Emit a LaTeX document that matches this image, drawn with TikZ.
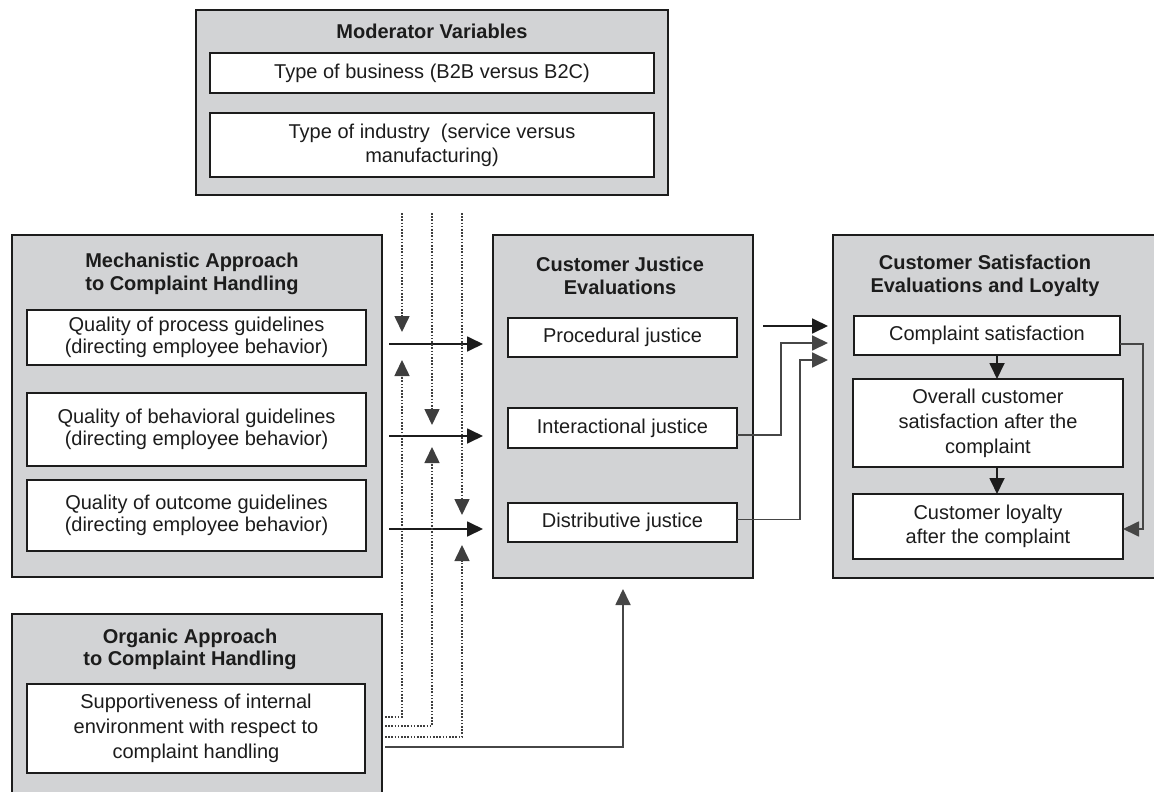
\documentclass[tikz,border=0pt]{standalone}
\usepackage{fontspec}
\setmainfont{Liberation Sans}
\usetikzlibrary{arrows.meta,calc}
\definecolor{panel}{RGB}{210,211,213}
\definecolor{ink}{RGB}{28,28,28}
\definecolor{wire}{RGB}{70,70,70}

\begin{document}
\begin{tikzpicture}[x=1pt,y=-1pt,
  panelbox/.style={draw=ink, line width=1.8pt, fill=panel, inner sep=0pt, outer sep=0pt},
  itembox/.style={draw=ink, line width=1.6pt, fill=white, inner sep=0pt, outer sep=0pt,
    align=center, text=ink, font=\fontsize{20}{22.5}\selectfont},
  heading/.style={font=\bfseries\fontsize{20}{22.5}\selectfont, align=center, text=ink, inner sep=0pt},
  tip/.style={-{Triangle[length=16pt,width=15pt]}},
  arr/.style={line width=1.8pt, draw=ink, tip},
  wirearr/.style={line width=1.8pt, draw=wire, tip},
  dots/.style={line width=1.6pt, draw=ink!85, dash pattern=on 1.6pt off 1.6pt},
  dotarr/.style={dots, tip}
]
\useasboundingbox (0,0) rectangle (1154,792);

% ---- Moderator variables ----
\node[panelbox, minimum width=472pt, minimum height=185pt] (mod) at (432,102.5) {};
\node[heading] (modT) at (432,31) {Moderator Variables};
\node[itembox, minimum width=444pt, minimum height=40pt] (mod1) at (432,73)
  {Type of business (B2B versus B2C)};
\node[itembox, minimum width=444pt, minimum height=64pt,
  font=\fontsize{20}{24}\selectfont] (mod2) at (432,145)
  {Type of industry\ \ (service versus\\manufacturing)};

% ---- Mechanistic approach ----
\node[panelbox, minimum width=370pt, minimum height=342pt] (mech) at (197,406) {};
\node[heading] (mechT) at (192,274) {Mechanistic Approach\\to Complaint Handling};
\node[itembox, minimum width=339pt, minimum height=55pt] (m1) at (196.5,337.5)
  {Quality of process guidelines\\(directing employee behavior)};
\node[itembox, minimum width=339pt, minimum height=73pt] (m2) at (196.5,429.5)
  {Quality of behavioral guidelines\\(directing employee behavior)};
\node[itembox, minimum width=339pt, minimum height=71pt] (m3) at (196.5,515.5)
  {Quality of outcome guidelines\\(directing employee behavior)};

% ---- Organic approach ----
\node[panelbox, minimum width=370pt, minimum height=200pt] (org) at (197,714) {};
\node[heading] (orgT) at (190,649.5) {Organic Approach\\to Complaint Handling};
\node[itembox, minimum width=338pt, minimum height=89pt,
  font=\fontsize{20}{25}\selectfont] (o1) at (196,728.5)
  {Supportiveness of internal\\environment with respect to\\complaint handling};

% ---- Customer justice evaluations ----
\node[panelbox, minimum width=260pt, minimum height=343pt] (cje) at (623,406.5) {};
\node[heading] (cjeT) at (620,276) {Customer Justice\\Evaluations};
\node[itembox, minimum width=229pt, minimum height=39pt] (pj) at (622.5,337.5) {Procedural justice};
\node[itembox, minimum width=229pt, minimum height=40pt] (ij) at (622.5,428) {Interactional justice};
\node[itembox, minimum width=229pt, minimum height=39pt] (dj) at (622.5,522.5) {Distributive justice};

% ---- Customer satisfaction evaluations and loyalty ----
\node[panelbox, minimum width=327pt, minimum height=343pt] (sat) at (996.5,406.5) {};
\node[heading] (satT) at (985,276) {Customer Satisfaction\\Evaluations and Loyalty};
\node[itembox, minimum width=266pt, minimum height=39pt] (cs) at (987,335.5) {Complaint satisfaction};
\node[itembox, minimum width=270pt, minimum height=88pt,
  font=\fontsize{20}{25}\selectfont] (oc) at (988,423)
  {Overall customer\\satisfaction after the\\complaint};
\node[itembox, minimum width=270pt, minimum height=65pt,
  font=\fontsize{20}{24}\selectfont] (cl) at (988,526.5)
  {Customer loyalty\\after the complaint};

% ---- free ends of the connectors ----
\coordinate (mA) at (389,344);  \coordinate (mAe) at (483,344);
\coordinate (mB) at (389,436);  \coordinate (mBe) at (483,436);
\coordinate (mC) at (389,529);  \coordinate (mCe) at (483,529);
\coordinate (d1) at (402,213);  \coordinate (d1e) at (402,332);
\coordinate (d2) at (432,213);  \coordinate (d2e) at (432,425);
\coordinate (d3) at (462,213);  \coordinate (d3e) at (462,515);
\coordinate (u1) at (385,717);  \coordinate (u1e) at (402,360);
\coordinate (u2) at (385,726);  \coordinate (u2e) at (432,447);
\coordinate (u3) at (385,737);  \coordinate (u3e) at (462,545);
\coordinate (os) at (385,747);  \coordinate (ose) at (623,589);
\coordinate (pA) at (763,326);  \coordinate (pAe) at (828,326);
\coordinate (iB) at (781,343);  \coordinate (iBe) at (828,343);
\coordinate (dC) at (800,360);  \coordinate (dCe) at (828,360);
\coordinate (fb) at (1143,344);

% mechanistic guidelines -> justice evaluations
\draw[arr] (mA) -- (mAe);
\draw[arr] (mB) -- (mBe);
\draw[arr] (mC) -- (mCe);

% moderator effects (dotted)
\draw[dotarr] (d1) -- (d1e);
\draw[dotarr] (d2) -- (d2e);
\draw[dotarr] (d3) -- (d3e);

% organic approach effects (dotted)
\draw[dotarr] (u1) -| (u1e);
\draw[dotarr] (u2) -| (u2e);
\draw[dotarr] (u3) -| (u3e);

% organic approach -> justice evaluations
\draw[wirearr] (os) -| (ose);

% justice evaluations -> satisfaction
\draw[arr] (pA) -- (pAe);
\draw[wirearr] ([yshift=-7pt]ij.east) -| (iB) -- (iBe);
\draw[wirearr] ([yshift=3pt]dj.east) -| (dC) -- (dCe);

% within satisfaction and loyalty
\draw[arr] ([xshift=10pt]cs.south) -- ([xshift=9pt]oc.north);
\draw[arr] ([xshift=9pt]oc.south) -- ([xshift=9pt]cl.north);
\draw[wirearr] ([yshift=-8.5pt]cs.east) -- (fb) |- ([yshift=-2.5pt]cl.east);
\end{tikzpicture}
\end{document}
